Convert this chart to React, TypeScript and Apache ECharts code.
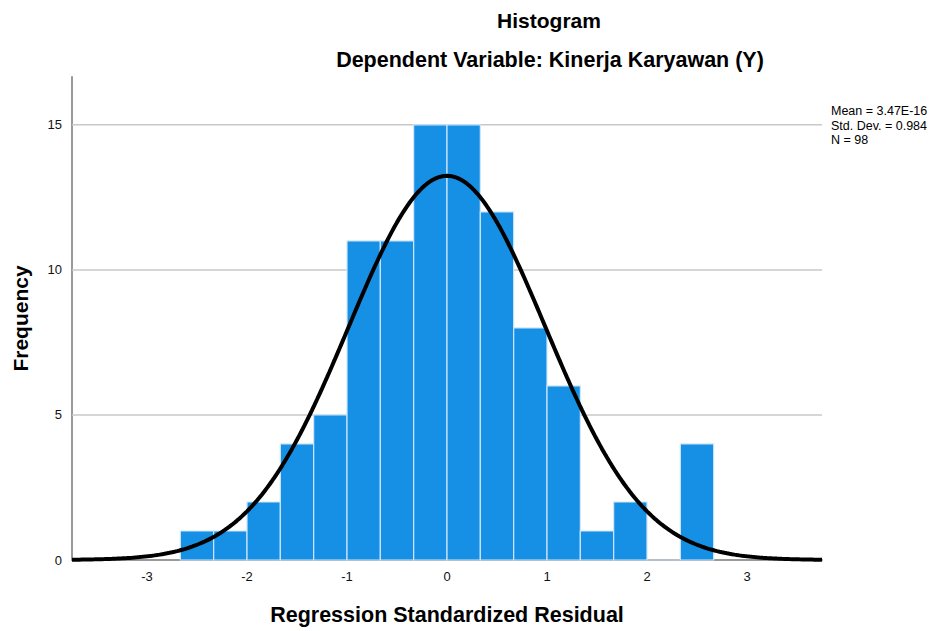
import React, { useEffect, useRef } from "react";
import * as echarts from "echarts";

const binStarts = [-2.6667, -2.3333, -2.0, -1.6667, -1.3333, -1.0, -0.6667, -0.3333, 0.0, 0.3333, 0.6667, 1.0, 1.3333, 1.6667, 2.0, 2.3333];
const binWidth = 0.3333;
const frequencies = [1, 1, 2, 4, 5, 11, 11, 15, 15, 12, 8, 6, 1, 2, 0, 4];
const xTicks = [-3, -2, -1, 0, 1, 2, 3];
const yTicks = [0, 5, 10, 15];
const mean = 3.47e-16;
const stdDev = 0.984;
const nObs = 98;
const statsLines = ["Mean = 3.47E-16", "Std. Dev. = 0.984", "N = 98"];

const X_MIN = -3.75;
const X_MAX = 3.75;

export default function App() {
  const ref = useRef<HTMLDivElement>(null);
  useEffect(() => {
    if (!ref.current) return;
    const chart = echarts.init(ref.current, null, { renderer: "svg" });
    const bars = binStarts.map((s, i) => [s, s + binWidth, frequencies[i]]);
    const curve: number[][] = [];
    const steps = 300;
    for (let k = 0; k <= steps; k++) {
      const x = X_MIN + ((X_MAX - X_MIN) * k) / steps;
      const z = (x - mean) / stdDev;
      const y = (nObs * binWidth) / (stdDev * Math.sqrt(2 * Math.PI)) * Math.exp(-0.5 * z * z);
      curve.push([x, y]);
    }
    const font = "Arial, 'Liberation Sans', sans-serif";
    chart.setOption({
      animation: false,
      textStyle: { fontFamily: font },
      grid: { left: 72, right: 122, top: 77, bottom: 68, containLabel: false },
      title: [
        { text: "Histogram", left: 544, top: 5, textAlign: "center", textStyle: { fontSize: 21, fontWeight: "bold", color: "#000", fontFamily: font } },
        { text: "Dependent Variable: Kinerja Karyawan (Y)", left: 545, top: 44, textAlign: "center", textStyle: { fontSize: 21.5, fontWeight: "bold", color: "#000", fontFamily: font } },
      ],
      graphic: [
        {
          type: "text",
          left: 831,
          top: 104,
          style: { text: statsLines.join("\n"), fontSize: 12.5, lineHeight: 14.5, fill: "#000", fontFamily: font },
        },
      ],
      xAxis: {
        type: "value",
        min: X_MIN,
        max: X_MAX,
        name: "Regression Standardized Residual",
        nameLocation: "middle",
        nameGap: 44,
        nameTextStyle: { fontSize: 21.5, fontWeight: "bold", color: "#000", fontFamily: font },
        axisLine: { show: true, onZero: false, lineStyle: { color: "#999", width: 2 } },
        axisTick: { show: false, customValues: xTicks },
        axisLabel: { customValues: xTicks, fontSize: 13, color: "#111", margin: 10 },
        splitLine: { show: false },
      },
      yAxis: {
        type: "value",
        min: 0,
        max: 16.65,
        name: "Frequency",
        nameLocation: "middle",
        nameGap: 41,
        nameTextStyle: { fontSize: 21, fontWeight: "bold", color: "#000", fontFamily: font },
        axisLine: { show: true, onZero: false, lineStyle: { color: "#999", width: 2 } },
        axisTick: { show: false, customValues: yTicks },
        axisLabel: { customValues: yTicks, fontSize: 13, color: "#111", margin: 10 },
        splitLine: { show: false },
      },
      series: [
        {
          type: "custom",
          data: yTicks.filter((v) => v > 0).map((v) => [v]),
          renderItem: (params: any, api: any) => {
            const v = api.value(0);
            const p0 = api.coord([X_MIN, v]);
            const p1 = api.coord([X_MAX, v]);
            return { type: "line", shape: { x1: p0[0], y1: p0[1], x2: p1[0], y2: p1[1] }, style: { stroke: "#c8c8c8", lineWidth: 1.5 } };
          },
          encode: { x: -1, y: 0 },
          z: 1,
          silent: true,
        },
        {
          type: "custom",
          data: bars,
          encode: { x: [0, 1], y: 2 },
          renderItem: (params: any, api: any) => {
            const a = api.coord([api.value(0), 0]);
            const b = api.coord([api.value(1), api.value(2)]);
            return {
              type: "rect",
              shape: { x: a[0], y: b[1], width: b[0] - a[0], height: a[1] - b[1] },
              style: { fill: "#1690e5", stroke: "#cfe6fa", lineWidth: 1.2 },
            };
          },
          z: 2,
          silent: true,
        },
        {
          type: "line",
          data: curve,
          showSymbol: false,
          smooth: false,
          lineStyle: { color: "#000", width: 4 },
          z: 3,
          silent: true,
        },
      ],
    });
    return () => chart.dispose();
  }, []);
  return <div ref={ref} style={{ width: 944, height: 631, position: "absolute", left: 0, top: 0 }} />;
}
